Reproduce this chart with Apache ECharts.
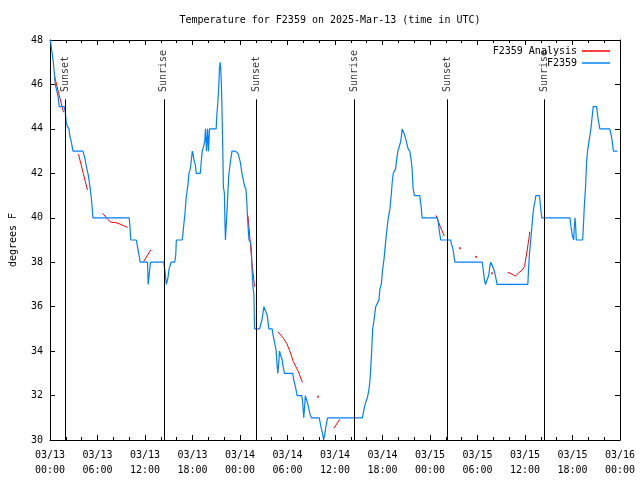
<!DOCTYPE html>
<html><head><meta charset="utf-8">
<script src="https://cdn.jsdelivr.net/npm/echarts@6/dist/echarts.min.js"></script>
<style>html,body{margin:0;padding:0;background:#fff}#c{width:640px;height:480px}</style>
</head><body><div id="c"></div>
<script>
// Hours since 2025-03-13 00:00 UTC
const xTickLabels = ['03/13\n00:00','03/13\n06:00','03/13\n12:00','03/13\n18:00','03/14\n00:00','03/14\n06:00','03/14\n12:00','03/14\n18:00','03/15\n00:00','03/15\n06:00','03/15\n12:00','03/15\n18:00','03/16\n00:00'];

const obsHours = [0.05,0.42,0.55,0.67,0.88,1.0,1.17,1.8,1.95,2.05,2.2,2.4,2.5,2.7,2.9,4.15,4.4,4.6,4.85,5.05,5.25,5.42,10.0,10.1,10.2,10.9,11.1,11.4,12.32,12.4,12.53,12.69,14.37,14.55,14.7,14.8,14.9,15.04,15.3,15.75,15.88,15.96,16.7,16.8,16.9,17.05,17.2,17.43,17.55,17.72,17.89,17.97,18.06,18.18,18.35,18.47,18.98,19.1,19.23,19.4,19.56,19.64,19.77,19.9,20.02,20.15,20.99,21.07,21.2,21.32,21.4,21.5,21.57,21.66,21.74,21.83,21.9,22.03,22.1,22.16,22.37,22.58,22.78,22.99,23.4,23.75,24.04,24.25,24.46,24.59,24.75,24.88,24.95,25.13,25.34,25.43,25.51,25.64,25.76,25.84,26.47,26.77,27.02,27.27,27.44,27.65,28.06,28.19,28.36,28.57,28.7,28.78,28.9,28.99,29.2,29.32,29.45,29.62,30.66,30.79,31.0,31.21,31.79,31.92,32.05,32.17,32.25,32.38,32.5,32.67,32.88,33.05,34.01,34.22,34.43,34.56,34.73,34.85,35.06,39.46,39.67,39.88,40.09,40.3,40.42,40.51,40.63,40.76,40.93,41.14,41.35,41.55,41.68,41.85,42.02,42.18,42.31,42.48,42.6,42.73,42.94,43.1,43.23,43.36,43.65,43.77,43.94,44.15,44.28,44.4,44.49,44.7,44.82,45.03,45.24,45.45,45.62,45.74,45.87,46.04,46.71,46.88,47.0,48.93,49.05,49.14,49.35,50.6,50.73,50.9,51.02,51.15,54.6,54.71,54.88,55.0,55.25,55.42,55.55,55.67,55.84,56.05,56.26,56.47,60.36,60.45,60.57,60.7,60.87,60.99,61.12,61.29,61.37,61.83,61.96,62.12,65.68,65.81,65.98,66.15,66.23,66.32,66.4,66.48,67.28,67.36,67.49,67.65,67.78,67.9,68.11,68.32,68.41,68.62,69.04,69.25,69.46,70.71,70.84,71.0,71.17,71.67];
const obsTemps = [48.0,47.0,46.5,46.0,46.0,45.5,45.0,45.0,44.7,44.3,44.1,44.0,43.7,43.4,43.0,43.0,42.7,42.3,41.9,41.4,40.8,40.0,40.0,39.6,39.0,39.0,38.6,38.0,38.0,37.0,37.0,38.0,38.0,37.5,37.0,37.0,37.3,37.7,38.0,38.0,38.3,39.0,39.0,39.3,39.7,40.2,40.9,41.5,42.0,42.2,42.7,43.0,42.9,42.6,42.4,42.0,42.0,42.5,43.0,43.2,43.5,44.0,43.0,44.0,43.0,44.0,44.0,44.6,45.2,45.9,46.7,47.0,46.7,45.9,44.6,43.0,41.4,41.1,39.8,39.0,40.4,41.9,42.5,43.0,43.0,42.9,42.5,42.0,42.0,41.4,41.3,40.6,40.0,39.0,38.9,38.6,37.7,36.9,36.5,35.0,35.0,35.4,36.0,36.0,35.6,35.0,35.0,34.7,34.4,34.0,33.3,33.0,33.5,34.0,34.0,33.6,33.3,33.0,33.0,32.7,32.4,32.0,32.0,31.7,31.0,31.5,32.0,32.0,31.7,31.45,31.1,31.0,31.0,30.6,30.3,30.0,30.3,30.6,31.0,31.0,31.4,31.7,31.9,32.3,32.7,33.2,34.0,35.0,35.4,36.0,36.0,36.3,36.8,37.0,37.7,38.1,38.6,39.2,39.6,40.0,40.4,41.0,41.6,42.0,42.2,42.55,43.0,43.0,43.4,43.7,44.0,44.0,43.7,43.4,43.1,43.0,42.6,42.2,41.3,41.0,41.0,40.5,40.0,40.0,39.8,39.5,39.0,39.0,38.8,38.6,38.3,38.0,38.0,37.7,37.2,37.0,37.0,37.4,37.8,38.0,38.0,37.7,37.4,37.0,37.0,37.7,38.4,38.9,39.6,40.1,40.5,40.8,41.0,41.0,40.5,40.0,40.0,39.6,39.2,39.0,39.6,40.0,39.6,39.0,39.0,39.5,40.5,41.4,42.5,43.0,43.0,44.0,44.3,45.0,45.0,44.4,44.0,44.0,43.8,43.5,43.0,43.0];

// Analysis segments (null = gap)
const anaHours = [0.55,1.1,1.7,null,3.6,4.2,4.73,null,6.66,7.29,7.7,8.33,8.83,9.38,9.8,null,11.81,12.73,null,25.0,25.3,25.5,25.84,null,28.78,29.49,29.9,30.33,30.75,31.38,31.88,null,35.85,36.6,null,48.76,49.3,49.8,null,57.84,58.39,58.8,59.23,59.65,59.94,60.07,60.28,60.53,60.6];
const anaTemps = [46.4,45.6,44.75,null,42.86,42.0,41.25,null,40.2,39.93,39.8,39.78,39.72,39.63,39.57,null,38.02,38.55,null,40.1,38.9,38.0,36.9,null,34.87,34.58,34.35,33.97,33.52,33.07,32.6,null,30.53,30.93,null,40.11,39.6,39.18,null,37.55,37.46,37.38,37.53,37.65,37.8,38.1,38.55,39.15,39.37];
const anaDotHours = [33.84,51.78,53.83,55.84];
const anaDotTemps = [31.95,38.63,38.24,37.5];

const sunNames = ['Sunset','Sunrise','Sunset','Sunrise','Sunset','Sunrise'];
const sunHours = [1.95,14.37,26.03,38.45,50.15,62.45];

const FONT = 'DejaVu Sans Mono';
const txt = {fontFamily: FONT, fontSize: 10, color: '#000'};
const chart = echarts.init(document.getElementById('c'), null, {renderer: 'canvas'});

const pair = (hs, vs) => hs.map((h, i) => h === null ? ['-', '-'] : [h, vs[i]]);

function xAx(pos, showLabel) {
  return {
    type: 'value', position: pos, min: 0, max: 72, interval: 6,
    axisLine: {show: true, onZero: false, lineStyle: {color: '#000', width: 1}},
    axisTick: {show: true, inside: true, length: 5, lineStyle: {color: '#000'}},
    minorTick: {show: true, splitNumber: 3, length: 3, lineStyle: {color: '#000'}},
    splitLine: {show: false}, minorSplitLine: {show: false},
    axisLabel: {show: showLabel, ...txt, lineHeight: 15, margin: 8,
      formatter: v => xTickLabels[Math.round(v / 6)]}
  };
}
function yAx(pos, showLabel) {
  return {
    type: 'value', position: pos, min: 30, max: 48, interval: 2,
    axisLine: {show: true, onZero: false, lineStyle: {color: '#000', width: 1}},
    axisTick: {show: true, inside: true, length: 5, lineStyle: {color: '#000'}},
    splitLine: {show: false},
    axisLabel: {show: showLabel, ...txt, margin: 7},
    name: showLabel ? 'degrees F' : '', nameLocation: 'middle', nameGap: 32, nameRotate: 90,
    nameTextStyle: txt
  };
}

chart.setOption({
  animation: false,
  backgroundColor: '#fff',
  title: {text: 'Temperature for F2359 on 2025-Mar-13 (time in UTC)', left: 330, top: 15, padding: 0,
    textAlign: 'center', textStyle: {...txt, fontWeight: 'normal'}},
  grid: {left: 47, right: 20, top: 40, bottom: 40, containLabel: false},
  legend: {data: ['F2359 Analysis', 'F2359'], orient: 'vertical', align: 'right', right: 30, top: 46,
    padding: 0, itemGap: 2, itemWidth: 28, itemHeight: 1.5, icon: 'rect',
    selectedMode: false, textStyle: {...txt, lineHeight: 10}},
  xAxis: [xAx('bottom', true), xAx('top', false)],
  yAxis: [yAx('left', true), yAx('right', false)],
  series: [
    {name: 'F2359 Analysis', type: 'line', data: pair(anaHours, anaTemps), symbol: 'none', connectNulls: false,
      lineStyle: {color: '#ff0000', width: 1}, itemStyle: {color: '#ff0000'}},
    {name: 'F2359 Analysis', type: 'scatter', data: pair(anaDotHours, anaDotTemps), symbol: 'rect', symbolSize: 2,
      itemStyle: {color: '#ff0000'}},
    {name: 'F2359', type: 'line', data: pair(obsHours, obsTemps), symbol: 'none',
      lineStyle: {color: '#0080ff', width: 1.2}, itemStyle: {color: '#0080ff'}},
    {name: 'sun', type: 'scatter', data: sunHours.map((h, i) => ({name: sunNames[i], value: [h, 45.66]})),
      symbolSize: 0, silent: true,
      label: {show: true, formatter: '{b}', position: 'inside', rotate: 90, align: 'left', verticalAlign: 'middle',
        offset: [0, 0], ...txt},
      markLine: {symbol: 'none', silent: true, label: {show: false},
        lineStyle: {color: '#000', width: 1, type: 'solid'},
        data: sunHours.map(h => [{coord: [h, 30]}, {coord: [h, 45.33]}])}}
  ]
});
</script></body></html>
